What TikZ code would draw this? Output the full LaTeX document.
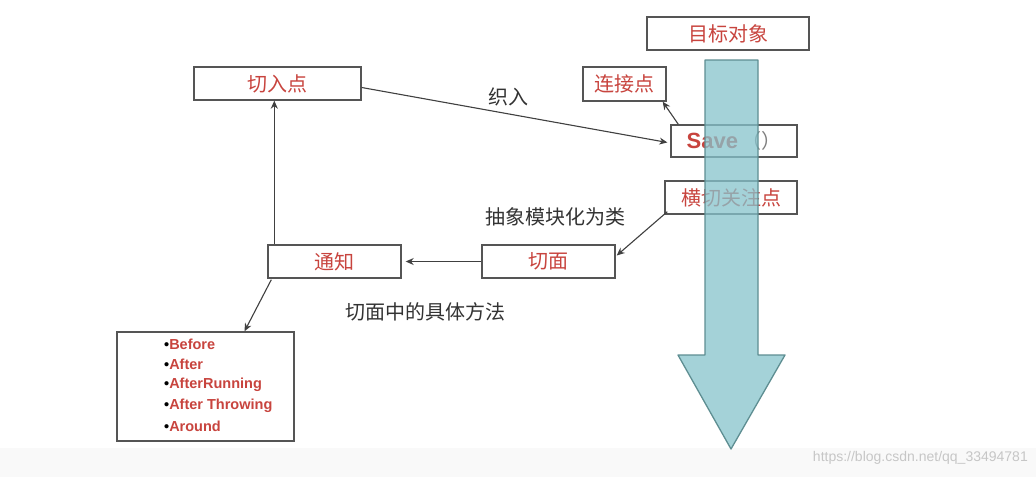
\documentclass[tikz,border=0pt]{standalone}
\usepackage{fontspec}
\setmainfont{Liberation Sans}
\newfontfamily\cjk{Noto Sans CJK SC}
\usetikzlibrary{arrows.meta,calc}
\definecolor{boxred}{HTML}{C8443E}
\definecolor{arrowfill}{HTML}{86C3CC}
\definecolor{arrowline}{HTML}{5E8E92}
\definecolor{boxline}{HTML}{555555}
\tikzset{
  box/.style={draw=boxline, line width=1.4pt, fill=white, rectangle, inner sep=0pt,
    text=boxred, font=\cjk\fontsize{20}{22}\selectfont},
  conn/.style={draw=black!75, line width=1.1pt, -{Stealth[length=8pt,width=7pt]}},
  lbl/.style={text=black!80, font=\cjk\fontsize{20}{22}\selectfont, inner sep=0pt},
  item/.style={text=boxred, font=\bfseries\fontsize{14.5}{15}\selectfont},
}
\begin{document}
\begin{tikzpicture}[x=1pt,y=-1pt]
\useasboundingbox (0,0) rectangle (1036,477);
\fill[white] (0,0) rectangle (1036,477);
\fill[gray!5] (0,448) rectangle (1036,477);
% boxes
\node[box, minimum width=162pt, minimum height=33pt] (goal) at (728,33.5) {目标对象};
\node[box, minimum width=167pt, minimum height=33pt] (cut) at (277.5,83.5) {切入点};
\node[box, minimum width=83pt, minimum height=34pt] (join) at (624.5,84) {连接点};
\node[box, minimum width=126pt, minimum height=32pt] (save) at (734,141) {{\fontspec{Liberation Sans}\bfseries\fontsize{22}{23}\selectfont Save}\,\textcolor{black!50}{（）}};
\node[box, minimum width=132pt, minimum height=33pt] (cross) at (731,197.5) {横切关注点};
\node[box, minimum width=133pt, minimum height=33pt] (advice) at (334.5,261.5) {通知};
\node[box, minimum width=133pt, minimum height=33pt] (aspect) at (548.5,261.5) {切面};
\node[box, minimum width=177pt, minimum height=109pt] (list) at (205.5,386.5) {};
% list items
\foreach \t [count=\i] in {Before,After,AfterRunning,After Throwing,Around}{
  \node[item, anchor=west, inner sep=0pt] (it\i) at (164,{344+20.5*(\i-1)}) {\textcolor{black}{\textbullet}\t};
}
% big arrow (semi-transparent over boxes)
\path[fill=arrowfill, fill opacity=0.75, draw=arrowline, line width=1.3pt, line join=round]
  (705,60) -- (758,60) -- (758,355) -- (785,355) -- (731,449) -- (678,355) -- (705,355) -- cycle;
% connectors
\draw[conn, shorten >=3pt] ($(cut.east)+(0,4)$) -- ($(save.west)+(0,2)$);
\draw[conn] ($(save.north west)+(8,0)$) -- ($(join.south east)+(-4,0)$);
\draw[conn] ($(cross.south west)+(3,-3)$) -- ($(aspect.east)+(1,-6)$);
\draw[conn, shorten >=4pt] (aspect.west) -- (advice.east);
\coordinate (up) at ($(advice.north west)+(7,0)$);
\draw[conn] (up) -- (up |- cut.south);
\draw[conn] ($(advice.south west)+(4,1)$) -- ($(list.north)+(39,0)$);
% labels
\node[lbl] (weave) at (508,97) {织入};
\node[lbl] (abstr) at (555,217) {抽象模块化为类};
\node[lbl] (method) at (425,312) {切面中的具体方法};
\node[text=gray!45, font=\fontsize{14}{15}\selectfont, anchor=east, inner sep=0pt] (wm) at (1028,458) {https://blog.csdn.net/qq\_33494781};
\end{tikzpicture}
\end{document}
